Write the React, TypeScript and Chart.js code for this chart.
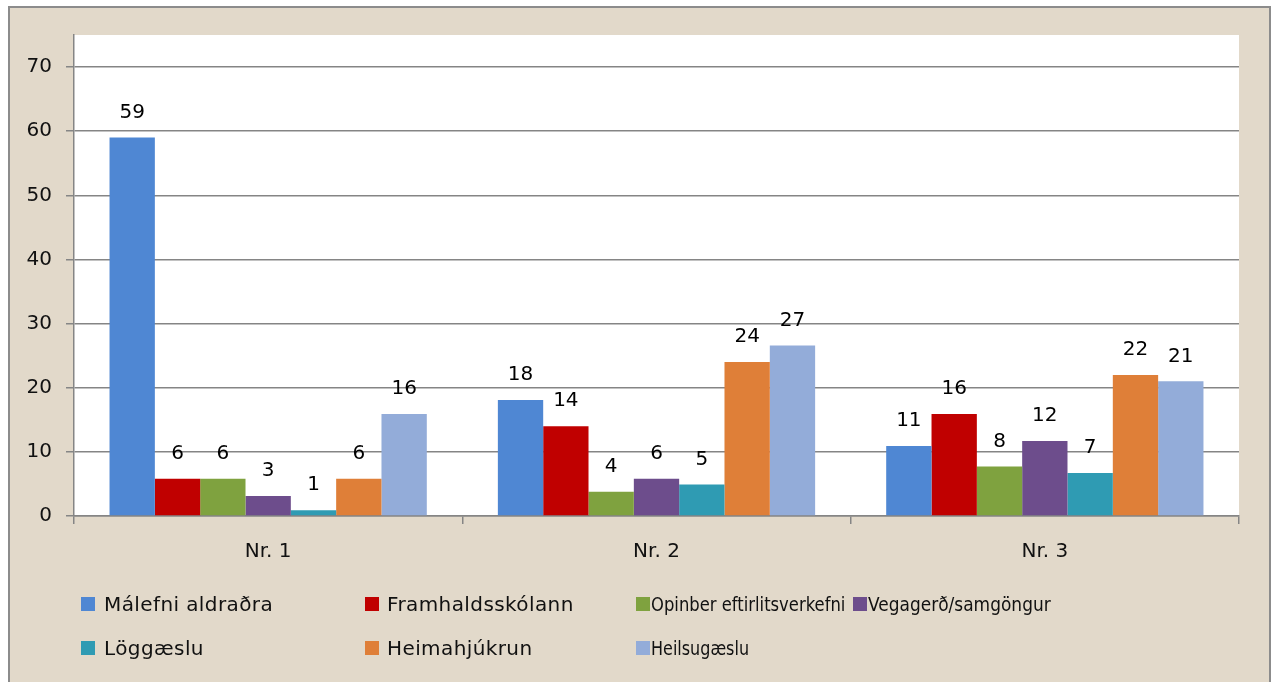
import React, { useEffect, useRef } from "react";
import { Chart, registerables } from "chart.js";

Chart.register(...registerables);

const categories = ["Nr. 1", "Nr. 2", "Nr. 3"];
const seriesNames = [
  "Málefni aldraðra",
  "Framhaldsskólann",
  "Opinber eftirlitsverkefni",
  "Vegagerð/samgöngur",
  "Löggæslu",
  "Heimahjúkrun",
  "Heilsugæslu",
];
const malefniAldradra = [59, 18.1, 10.9];
const framhaldsskolann = [5.8, 14, 15.9];
const opinberEftirlit = [5.8, 3.8, 7.7];
const vegagerd = [3.1, 5.8, 11.7];
const loggaeslu = [0.9, 4.9, 6.7];
const heimahjukrun = [5.8, 24, 22];
const heilsugaeslu = [15.9, 26.6, 21];
const seriesValues = [
  malefniAldradra,
  framhaldsskolann,
  opinberEftirlit,
  vegagerd,
  loggaeslu,
  heimahjukrun,
  heilsugaeslu,
];
const seriesColors = [
  "#4f87d3",
  "#c00000",
  "#7fa23f",
  "#6d4d8c",
  "#2f9bb3",
  "#df7f38",
  "#93acd9",
];
const yMax = 75;
const yStep = 10;

// legend layout (row, square x, text x, horizontal text scale)
const legendLayout = [
  { row: 0, sx: 81, tx: 104, sc: 1 },
  { row: 0, sx: 365, tx: 387, sc: 1 },
  { row: 0, sx: 636, tx: 651, sc: 0.82 },
  { row: 0, sx: 853, tx: 868, sc: 0.85 },
  { row: 1, sx: 81, tx: 104, sc: 1 },
  { row: 1, sx: 365, tx: 387, sc: 1 },
  { row: 1, sx: 636, tx: 651, sc: 0.8 },
];
const legendRowY = [604, 648];

const FONT = "'DejaVu Sans', Verdana, sans-serif";
const GRID = "#858585";

const plotBg = {
  id: "plotBg",
  beforeDraw(chart: any) {
    const { ctx, chartArea } = chart;
    ctx.save();
    ctx.fillStyle = "#ffffff";
    ctx.fillRect(chartArea.left, chartArea.top, chartArea.right - chartArea.left, chartArea.bottom - chartArea.top);
    ctx.restore();
  },
};

const valueLabels = {
  id: "valueLabels",
  afterDatasetsDraw(chart: any) {
    const { ctx } = chart;
    ctx.save();
    ctx.font = `20px ${FONT}`;
    ctx.fillStyle = "#000000";
    ctx.textAlign = "center";
    ctx.textBaseline = "middle";
    chart.data.datasets.forEach((ds: any, i: number) => {
      const meta = chart.getDatasetMeta(i);
      meta.data.forEach((el: any, j: number) => {
        const v = ds.data[j];
        ctx.fillText(String(Math.round(v)), el.x, el.y - 25);
      });
    });
    ctx.restore();
  },
};

export default function App() {
  const ref = useRef<HTMLCanvasElement | null>(null);

  useEffect(() => {
    document.body.style.margin = "0";
    const canvas = ref.current!;
    const chart = new Chart(canvas, {
      type: "bar",
      data: {
        labels: categories,
        datasets: seriesNames.map((name, i) => ({
          label: name,
          data: seriesValues[i],
          backgroundColor: seriesColors[i],
          borderWidth: 0,
          categoryPercentage: 0.817,
          barPercentage: 1,
        })),
      },
      options: {
        animation: false,
        responsive: false,
        devicePixelRatio: 1,
        layout: { padding: { left: 0, right: 38, top: 35, bottom: 106 } },
        plugins: {
          legend: { display: false },
          tooltip: { enabled: false },
          title: { display: false },
        },
        scales: {
          x: {
            grid: {
              offset: true,
              drawOnChartArea: false,
              drawTicks: true,
              tickLength: 8,
              color: GRID,
              lineWidth: 1.5,
            },
            border: { color: GRID, width: 1.5 },
            ticks: {
              color: "#111111",
              font: { family: FONT, size: 20 },
              padding: 16,
              maxRotation: 0,
            },
            afterFit: (s: any) => {
              s.height = 60;
            },
          },
          y: {
            min: 0,
            max: yMax,
            grid: {
              color: GRID,
              lineWidth: 1.5,
              tickLength: 8,
            },
            border: { color: GRID, width: 1.5 },
            ticks: {
              stepSize: yStep,
              color: "#111111",
              font: { family: FONT, size: 20 },
              padding: 14,
            },
            afterBuildTicks: (s: any) => {
              s.ticks = s.ticks.filter((t: any) => t.value % yStep === 0);
            },
            afterFit: (s: any) => {
              s.width = 74;
            },
          },
        },
      },
      plugins: [plotBg, valueLabels],
    });
    return () => chart.destroy();
  }, []);

  return (
    <div style={{ position: "fixed", left: 0, top: 0, width: 1277, height: 682, background: "#ffffff", overflow: "hidden" }}>
      <div
        style={{
          position: "absolute",
          left: 8,
          top: 6,
          width: 1259,
          height: 700,
          border: "2px solid #8c8c8c",
          background: "#e2d9ca",
        }}
      />
      <canvas ref={ref} width={1277} height={682} style={{ position: "absolute", left: 0, top: 0, width: 1277, height: 682 }} />
      {seriesNames.map((name, i) => {
        const L = legendLayout[i];
        const cy = legendRowY[L.row];
        return (
          <React.Fragment key={name}>
            <div
              style={{
                position: "absolute",
                left: L.sx,
                top: cy - 7,
                width: 14,
                height: 14,
                background: seriesColors[i],
              }}
            />
            <div
              style={{
                position: "absolute",
                left: L.tx,
                top: cy - 13,
                height: 26,
                lineHeight: "26px",
                fontFamily: FONT,
                fontSize: 20,
                letterSpacing: L.sc === 1 ? 0.4 : 0,
                color: "#111111",
                whiteSpace: "nowrap",
                transform: `scaleX(${L.sc})`,
                transformOrigin: "left center",
              }}
            >
              {name}
            </div>
          </React.Fragment>
        );
      })}
    </div>
  );
}
